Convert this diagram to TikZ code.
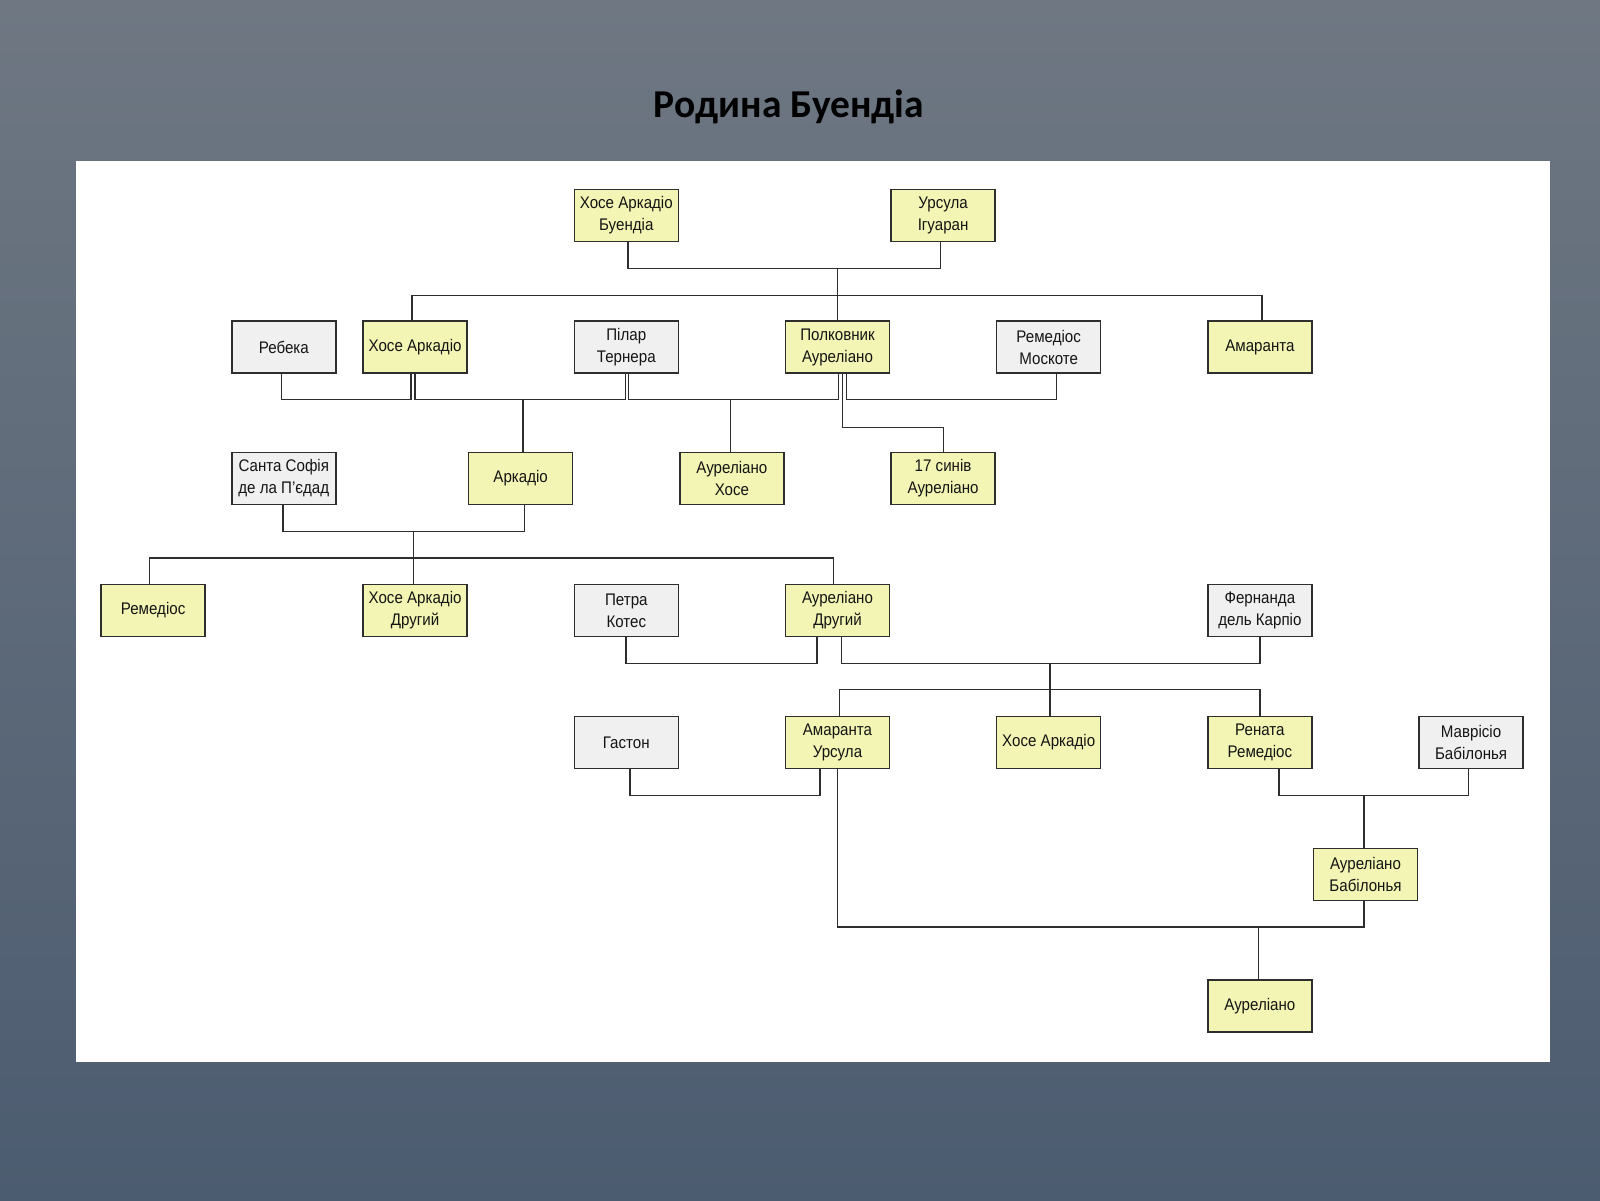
\documentclass[tikz,border=0pt]{standalone}
\usepackage{fontspec}
\setmainfont{Liberation Sans}
\newfontfamily\boxfont[FakeStretch=0.9]{Liberation Sans}
\newfontfamily\titlefont{Carlito}
\definecolor{yfill}{HTML}{F2F5B3}
\definecolor{gfill}{HTML}{F0F0F0}
\definecolor{bgtop}{HTML}{6E7782}
\definecolor{bgbot}{HTML}{4C5C70}
\definecolor{ln}{HTML}{2E2E2E}
\tikzset{
  pbox/.style={draw=ln, line width=1.5pt, minimum width=104pt, minimum height=52pt,
    inner sep=0pt, align=center, text=black!92, font=\boxfont\fontsize{16.8}{22}\selectfont},
  yb/.style={pbox, fill=yfill},
  gb/.style={pbox, fill=gfill},
  link/.style={draw=ln, line width=1.5pt}
}
\begin{document}
\begin{tikzpicture}[x=1pt,y=-1pt]
\useasboundingbox (0,0) rectangle (1600,1200);
\shade[top color=bgtop, bottom color=bgbot] (0,0) rectangle (1600,1200);
\fill[white] (75.5,161) rectangle (1550,1062);
\node[font=\titlefont\bfseries\fontsize{39.5}{44}\selectfont, text=black] (title) at (789,107) {Родина Буендіа};

% row 1
\node[yb] (xab) at (626.3,215.5) {Хосе Аркадіо\\Буендіа};
\node[yb] (urs) at (943.1,215.5) {Урсула\\Ігуаран};
% row 2
\node[gb] (reb) at (283.8,347) {Ребека};
\node[yb] (xa1) at (415.1,347) {Хосе Аркадіо};
\node[gb] (pil) at (626.3,347) {Пілар\\Тернера};
\node[yb] (pol) at (837.5,347) {Полковник\\Ауреліано};
\node[gb] (rmo) at (1048.7,347) {Ремедіос\\Москоте};
\node[yb] (ama) at (1259.9,347) {Амаранта};
% row 3
\node[gb] (ssd) at (283.8,478.5) {Санта Софія\\де ла П’єдад};
\node[yb] (ark) at (520.7,478.5) {Аркадіо};
\node[yb] (axo) at (731.9,478.5) {Ауреліано\\Хосе};
\node[yb] (s17) at (943.1,478.5) {17 синів\\Ауреліано};
% row 4
\node[yb] (rem) at (153.1,610.5) {Ремедіос};
\node[yb] (xad) at (415.1,610.5) {Хосе Аркадіо\\Другий};
\node[gb] (pet) at (626.3,610.5) {Петра\\Котес};
\node[yb] (aud) at (837.5,610.5) {Ауреліано\\Другий};
\node[gb] (fer) at (1259.9,610.5) {Фернанда\\дель Карпіо};
% row 5
\node[gb] (gas) at (626.3,742.5) {Гастон};
\node[yb] (aur) at (837.5,742.5) {Амаранта\\Урсула};
\node[yb] (xa3) at (1048.7,742.5) {Хосе Аркадіо};
\node[yb] (ren) at (1259.9,742.5) {Рената\\Ремедіос};
\node[gb] (mav) at (1471.1,742.5) {Маврісіо\\Бабілонья};
% row 6, 7
\node[yb] (aub) at (1365.5,874.5) {Ауреліано\\Бабілонья};
\node[yb] (aul) at (1259.9,1006) {Ауреліано};

% junctions
\coordinate (j1) at (837.3,268.3);
\coordinate (j2) at (837.3,295.3);
\coordinate (c1) at (350,399.7);
\coordinate (jA) at (523,399.7);
\coordinate (jB) at (730.3,399.7);
\coordinate (c2) at (950,399.7);
\coordinate (c3) at (900,427.7);
\coordinate (jC) at (413.7,531.3);
\coordinate (jD) at (413.7,558);
\coordinate (c4) at (720,663.3);
\coordinate (jE) at (1050,663.3);
\coordinate (jF) at (1050,689.3);
\coordinate (c5) at (720,795.3);
\coordinate (jG) at (1364,795.3);
\coordinate (jH) at (1258.4,927);

% generation 1
\draw[link] ([xshift=1.7pt]xab.south) |- (j1) -| ([xshift=-2.8pt]urs.south);
\draw[link] (j1) -- (j2);
\draw[link] ([xshift=-2.9pt]xa1.north) |- (j2) -| ([xshift=2.3pt]ama.north);
\draw[link] (j2) -- (j2 |- pol.north);
% generation 2 couples
\draw[link] ([xshift=-2.1pt]reb.south) |- (c1) -| ([xshift=-4.1pt]xa1.south);
\draw[link] ([xshift=-0.1pt]xa1.south) |- (jA) -| ([xshift=-1pt]pil.south);
\draw[link] (jA) -- (jA |- ark.north);
\draw[link] ([xshift=2.4pt]pil.south) |- (jB) -| ([xshift=1.2pt]pol.south);
\draw[link] (jB) -- (jB |- axo.north);
\draw[link] ([xshift=9.2pt]pol.south) |- (c2) -| ([xshift=8pt]rmo.south);
\draw[link] ([xshift=5.2pt]pol.south) |- (c3) -| ([xshift=0.2pt]s17.north);
% generation 3
\draw[link] ([xshift=-0.8pt]ssd.south) |- (jC) -| ([xshift=4pt]ark.south);
\draw[link] (jC) -- (jD);
\draw[link] ([xshift=-3.8pt]rem.north) |- (jD) -| ([xshift=-3.9pt]aud.north);
\draw[link] (jD) -- (jD |- xad.north);
% generation 4
\draw[link] ([xshift=-0.4pt]pet.south) |- (c4) -| ([xshift=-20.5pt]aud.south);
\draw[link] ([xshift=4pt]aud.south) |- (jE) -| (fer.south);
\draw[link] (jE) -- (jF);
\draw[link] ([xshift=1.8pt]aur.north) |- (jF) -| (ren.north);
\draw[link] (jF) -- (jF |- xa3.north);
% generation 5
\draw[link] ([xshift=3.6pt]gas.south) |- (c5) -| ([xshift=-17.6pt]aur.south);
\draw[link] ([xshift=19.2pt]ren.south) |- (jG) -| ([xshift=-2.5pt]mav.south);
\draw[link] (jG) -- (jG |- aub.north);
% generation 6
\draw[link] ([xshift=0.2pt]aur.south) |- (jH) -| ([xshift=-1.5pt]aub.south);
\draw[link] (jH) -- (jH |- aul.north);
\end{tikzpicture}
\end{document}
